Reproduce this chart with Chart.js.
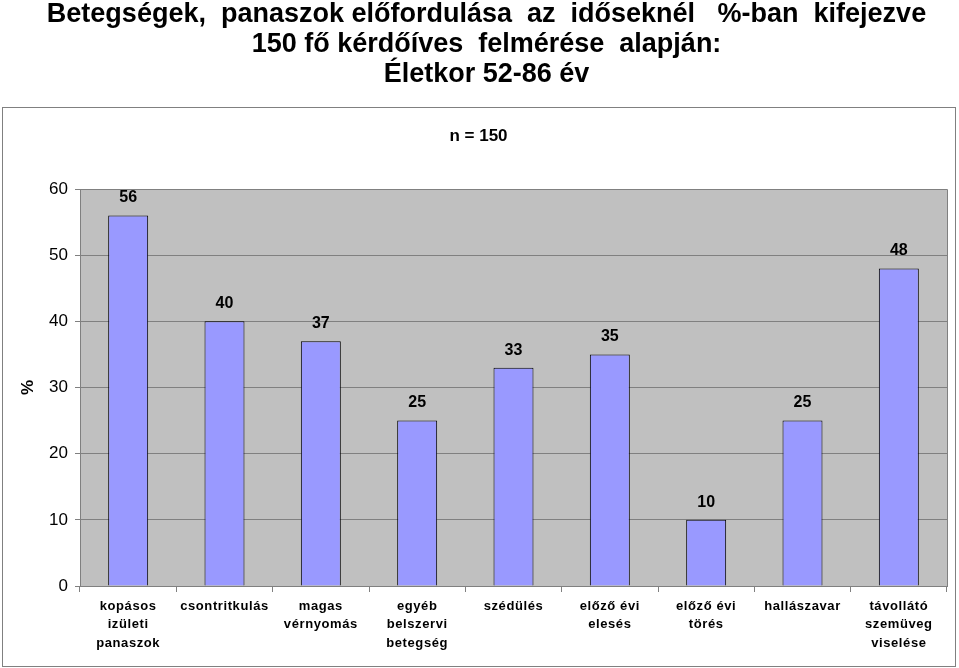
<!DOCTYPE html>
<html><head><meta charset="utf-8">
<script src="https://cdn.jsdelivr.net/npm/chart.js@4"></script>
<style>html,body{margin:0;padding:0;background:#fff;} canvas{display:block;}</style>
</head><body>
<canvas id="c" width="959" height="668"></canvas>
<script>
const titleLines = ['Betegségek,  panaszok előfordulása  az  időseknél   %-ban  kifejezve', '150 fő kérdőíves  felmérése  alapján:', 'Életkor 52-86 év'];
const subtitleText = 'n = 150';
const categories = [['kopásos','izületi','panaszok'], ['csontritkulás'], ['magas','vérnyomás'], ['egyéb','belszervi','betegség'], ['szédülés'], ['előző évi','elesés'], ['előző évi','törés'], ['hallászavar'], ['távollátó','szemüveg','viselése']];
const values = [56, 40, 37, 25, 33, 35, 10, 25, 48];
const yTicks = [0, 10, 20, 30, 40, 50, 60];
const yAxisTitle = '%';

const FONT = "'Liberation Sans', Arial, sans-serif";
Chart.defaults.font.family = FONT;
Chart.defaults.color = '#000';

const framePlugin = {
  id: 'frame',
  afterLayout(chart) {
    if (chart.titleBlock) { chart.titleBlock.left += 8; chart.titleBlock.right += 8; }
  },
  beforeDraw(chart) {
    const ctx = chart.ctx, a = chart.chartArea;
    ctx.letterSpacing = '0px';
    ctx.save();
    ctx.fillStyle = '#fff';
    ctx.fillRect(0, 0, chart.width, chart.height);
    ctx.strokeStyle = '#808080';
    ctx.lineWidth = 1;
    ctx.strokeRect(2.5, 107.5, 953, 559);
    ctx.fillStyle = '#c0c0c0';
    ctx.fillRect(a.left, a.top, a.right - a.left, a.bottom - a.top);
    ctx.restore();
  },
  afterDatasetsDraw(chart) {
    const ctx = chart.ctx, a = chart.chartArea;
    ctx.save();
    ctx.strokeStyle = '#808080';
    ctx.lineWidth = 1;
    ctx.beginPath();
    ctx.moveTo(a.left, a.top + 0.5);
    ctx.lineTo(a.right + 0.5, a.top + 0.5);
    ctx.lineTo(a.right + 0.5, a.bottom);
    ctx.stroke();
    ctx.fillStyle = '#000';
    ctx.font = 'bold 16px ' + FONT;
    ctx.textAlign = 'center';
    ctx.textBaseline = 'middle';
    const meta = chart.getDatasetMeta(0);
    meta.data.forEach((bar, i) => {
      ctx.fillText(String(values[i]), bar.x, bar.y - 17.5);
    });
    ctx.restore();
    ctx.letterSpacing = '0.6px';
  },
  afterDraw(chart) {
    chart.ctx.letterSpacing = '0px';
  }
};

new Chart(document.getElementById('c'), {
  type: 'bar',
  data: {
    labels: categories,
    datasets: [{
      data: values,
      backgroundColor: '#9999ff',
      borderColor: '#000000',
      borderWidth: 1,
      barPercentage: 0.415,
      categoryPercentage: 1
    }]
  },
  options: {
    responsive: false,
    animation: false,
    events: [],
    layout: { padding: { left: 10, right: 12, top: 0, bottom: 0 } },
    plugins: {
      legend: { display: false },
      tooltip: { enabled: false },
      title: {
        display: true,
        text: titleLines,
        color: '#000',
        font: { size: 27, weight: 'bold', lineHeight: '30px' },
        padding: { top: 0, bottom: 37 }
      },
      subtitle: {
        display: true,
        text: subtitleText,
        color: '#000',
        font: { size: 17, weight: 'bold', lineHeight: '18px' },
        padding: { top: 0, bottom: 44 }
      }
    },
    scales: {
      x: {
        grid: { offset: true, drawOnChartArea: false, tickLength: 6, color: '#808080' },
        border: { color: '#808080' },
        ticks: {
          z: 1,
          color: '#000',
          font: { size: 13, weight: 'bold', lineHeight: '18.5px' },
          padding: 5,
          maxRotation: 0,
          minRotation: 0,
          autoSkip: false
        },
        afterFit(s) { s.height = 82; }
      },
      y: {
        min: 0,
        max: 60,
        afterBuildTicks(s) { s.ticks = yTicks.map(v => ({ value: v })); },
        ticks: { color: '#000', font: { size: 17 }, padding: 7 },
        grid: { color: '#808080', tickLength: 5 },
        border: { color: '#808080' },
        title: {
          display: true,
          text: yAxisTitle,
          color: '#000',
          font: { size: 17, weight: 'bold' },
          padding: { top: 8, bottom: 0 }
        },
        afterFit(s) { s.width = 70; }
      }
    }
  },
  plugins: [framePlugin]
});
</script>
</body></html>
